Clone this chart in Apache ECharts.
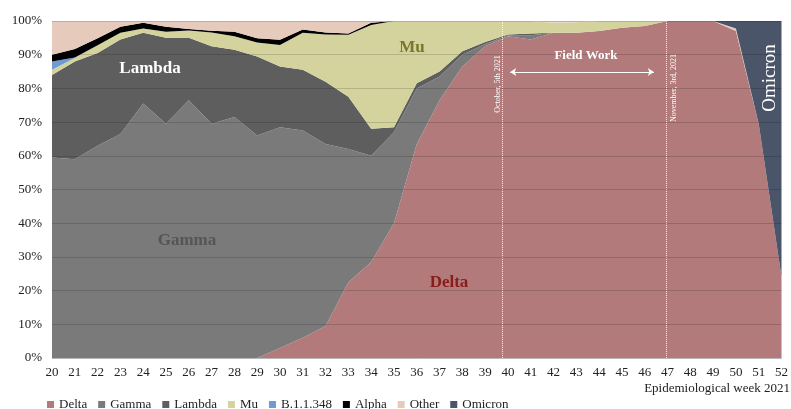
<!DOCTYPE html>
<html>
<head>
<meta charset="utf-8">
<title>Variants by epidemiological week 2021</title>
<script src="https://cdn.jsdelivr.net/npm/echarts@6/dist/echarts.min.js"></script>
<style>
  html, body { margin: 0; padding: 0; background: #fff; }
  #chart { width: 791px; height: 409px; }
</style>
</head>
<body>
<div id="chart"></div>
<script>
// epidemiological weeks 20..52 of 2021
const weeks = ['20', '21', '22', '23', '24', '25', '26', '27', '28', '29', '30', '31', '32', '33', '34', '35', '36',
  '37', '38', '39', '40', '41', '42', '43', '44', '45', '46', '47', '48', '49', '50', '51', '52']

// share of sequenced samples (%) per variant
const delta = [0, 0, 0, 0, 0, 0, 0, 0, 0, 0, 3, 6, 9.5, 22.5, 28.5, 40, 63.5,
  76.5, 86.5, 92.5, 95.5, 94.5, 96.5, 96.5, 97, 98, 98.5, 100, 100, 100, 97, 69.5, 24]
const gamma = [59.5, 59, 63, 66.5, 75.5, 69.5, 76.5, 69.5, 71.5, 66, 65.5, 61.5, 54, 39.5, 31.5, 27, 16.5,
  7, 3.5, 0.7, 0.3, 1.3, 0, 0, 0, 0, 0, 0, 0, 0, 0, 0, 0]
const lambda = [24.5, 29, 27.5, 28, 21, 25.5, 18.5, 23, 20, 23.5, 18, 18, 18.5, 15.5, 8, 1.5, 1.5,
  1.5, 1, 0.6, 0.2, 0.5, 0, 0, 0, 0, 0, 0, 0, 0, 0, 0, 0]
const mu = [1.5, 1, 2.3, 2, 1.3, 1.8, 2.2, 4.1, 4, 4.1, 6.4, 11, 14, 18.4, 30.8, 31.5, 18.5,
  15, 9, 6.2, 4, 3.7, 3, 3.1, 3, 2, 1.5, 0, 0, 0, 0, 0, 0]
const b11348 = [2.5, 0.2, 0, 0, 0, 0, 0, 0, 0, 0, 0, 0, 0, 0, 0, 0, 0,
  0, 0, 0, 0, 0, 0, 0, 0, 0, 0, 0, 0, 0, 0, 0, 0]
const alpha = [2, 2.5, 2.1, 1.8, 1.7, 1.5, 0.4, 0.5, 1.3, 1.3, 1.5, 1, 0.6, 0.4, 0.7, 0, 0,
  0, 0, 0, 0, 0, 0, 0, 0, 0, 0, 0, 0, 0, 0, 0, 0]
const other = [10, 8.3, 5.1, 1.7, 0.5, 1.7, 2.4, 2.9, 3.2, 5.1, 5.6, 2.5, 3.4, 3.7, 0.5, 0, 0,
  0, 0, 0, 0, 0, 0.5, 0.4, 0, 0, 0, 0, 0, 0, 0.8, 0, 0]
const omicron = [0, 0, 0, 0, 0, 0, 0, 0, 0, 0, 0, 0, 0, 0, 0, 0, 0,
  0, 0, 0, 0, 0, 0, 0, 0, 0, 0, 0, 0, 0, 2.2, 30.5, 76]

const yTicks = [0, 10, 20, 30, 40, 50, 60, 70, 80, 90, 100]

// field work period, in weeks (dates drawn as dotted lines)
const fieldStart = 39.75
const fieldEnd = 46.95
const arrowFrom = 40.1
const arrowTo = 46.4
const arrowLevel = 84.9

const serif = '"Liberation Serif", "DejaVu Serif", serif'

const variants = [
  { name: 'Delta', data: delta, color: '#b27a7b' },
  { name: 'Gamma', data: gamma, color: '#7a7a7a' },
  { name: 'Lambda', data: lambda, color: '#5e5e5e' },
  { name: 'Mu', data: mu, color: '#d4d39d' },
  { name: 'B.1.1.348', data: b11348, color: '#6f9ad3' },
  { name: 'Alpha', data: alpha, color: '#000000' },
  { name: 'Other', data: other, color: '#e6cabb' },
  { name: 'Omicron', data: omicron, color: '#4b5569' }
]

const chart = echarts.init(document.getElementById('chart'))

const series = variants.map(v => ({
  name: v.name,
  type: 'line',
  stack: 'total',
  symbol: 'none',
  smooth: false,
  lineStyle: { width: 0 },
  itemStyle: { color: v.color },
  areaStyle: { color: v.color, opacity: 1 },
  data: v.data
}))

// annotation layer on a hidden week-value axis
series.push({
  name: 'annot',
  type: 'line',
  xAxisIndex: 1,
  data: [],
  z: 20,
  markLine: {
    silent: true,
    symbol: 'none',
    label: { show: false },
    animation: false,
    lineStyle: { color: 'rgba(255,255,255,0.85)', type: 'dotted', width: 1 },
    data: [
      { xAxis: fieldStart },
      { xAxis: fieldEnd },
      [
        { coord: [arrowFrom, arrowLevel], symbol: 'arrow', symbolSize: 6, lineStyle: { type: 'solid', color: '#fff', width: 1.2 } },
        { coord: [arrowTo, arrowLevel], symbol: 'arrow', symbolSize: 6 }
      ]
    ]
  }
})

const option = {
  animation: false,
  grid: { left: 52, right: 8, top: 21, bottom: 51 },
  legend: {
    left: 42,
    top: 393,
    itemWidth: 7,
    itemHeight: 7,
    itemGap: 11,
    icon: 'rect',
    textStyle: { fontFamily: serif, fontSize: 13, color: '#222' },
    data: variants.map(v => v.name)
  },
  xAxis: [
    {
      type: 'category',
      boundaryGap: false,
      data: weeks,
      axisLine: { show: true, lineStyle: { color: '#d9d9d9' } },
      axisTick: { show: false },
      splitLine: { show: false },
      axisLabel: { interval: 0, fontFamily: serif, fontSize: 13, color: '#222', margin: 8 }
    },
    { type: 'value', min: 20, max: 52, show: false }
  ],
  yAxis: {
    type: 'value',
    min: 0,
    max: 100,
    interval: 10,
    z: 10,
    axisLine: { show: false },
    axisTick: { show: false },
    splitLine: { show: true, lineStyle: { color: 'rgba(0,0,0,0.15)', width: 1 } },
    axisLabel: {
      fontFamily: serif, fontSize: 13, color: '#222', margin: 10,
      formatter: v => (yTicks.includes(v) ? v + '%' : '')
    }
  },
  graphic: [
    { type: 'text', x: 150, y: 69, z: 100, style: { text: 'Lambda', fill: '#fff', font: 'bold 17px ' + serif, align: 'center', verticalAlign: 'middle' } },
    { type: 'text', x: 412, y: 48, z: 100, style: { text: 'Mu', fill: '#7b782c', font: 'bold 17px ' + serif, align: 'center', verticalAlign: 'middle' } },
    { type: 'text', x: 187, y: 241, z: 100, style: { text: 'Gamma', fill: '#555555', font: 'bold 17px ' + serif, align: 'center', verticalAlign: 'middle' } },
    { type: 'text', x: 449, y: 283, z: 100, style: { text: 'Delta', fill: '#8b1c1c', font: 'bold 17px ' + serif, align: 'center', verticalAlign: 'middle' } },
    { type: 'text', x: 586, y: 56, z: 100, style: { text: 'Field Work', fill: '#fff', font: 'bold 13px ' + serif, align: 'center', verticalAlign: 'middle' } },
    { type: 'text', x: 770, y: 78, rotation: Math.PI / 2, z: 100, style: { text: 'Omicron', fill: '#fff', font: '19px ' + serif, align: 'center', verticalAlign: 'middle' } },
    { type: 'text', x: 498, y: 84, rotation: Math.PI / 2, z: 100, style: { text: 'October, 5th 2021', fill: '#fff', font: '8px ' + serif, align: 'center', verticalAlign: 'middle' } },
    { type: 'text', x: 674, y: 88, rotation: Math.PI / 2, z: 100, style: { text: 'November, 3rd, 2021', fill: '#fff', font: '8px ' + serif, align: 'center', verticalAlign: 'middle' } },
    { type: 'text', x: 790, y: 389, z: 100, style: { text: 'Epidemiological week 2021', fill: '#222', font: '13px ' + serif, align: 'right', verticalAlign: 'middle' } }
  ],
  series: series
}

chart.setOption(option)
</script>
</body>
</html>
